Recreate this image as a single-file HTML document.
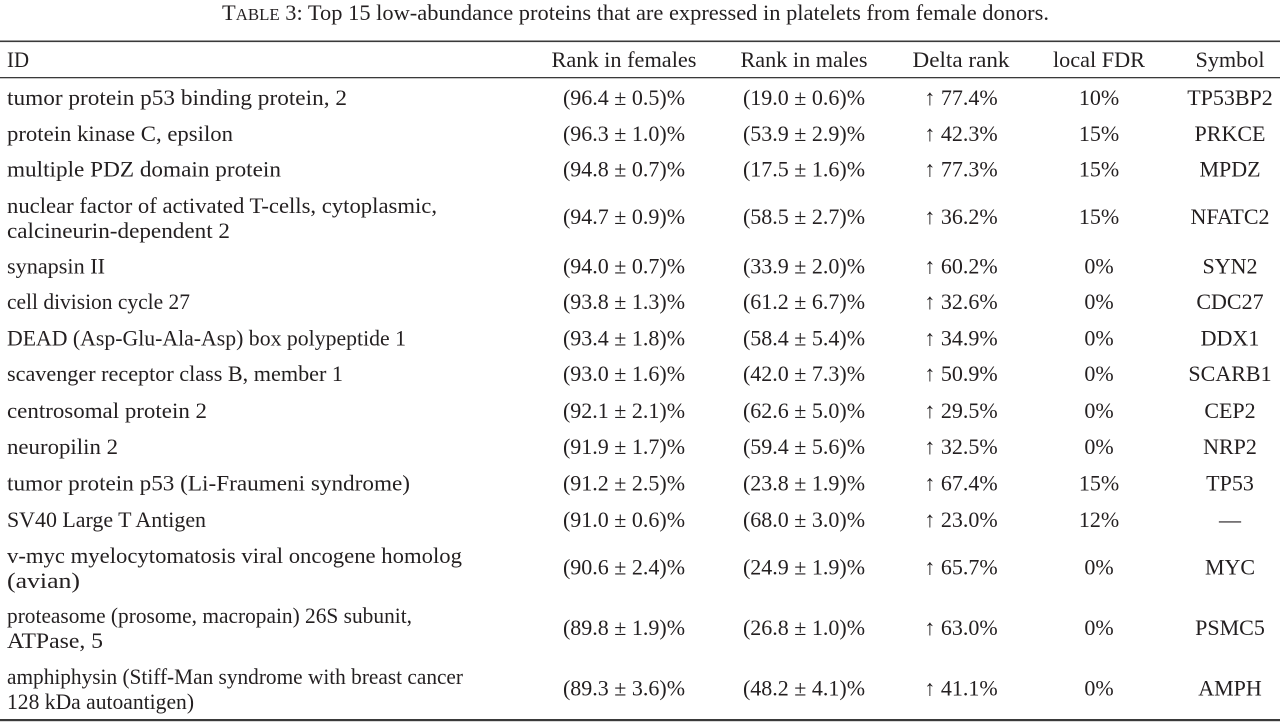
<!DOCTYPE html>
<html>
<head>
<meta charset="utf-8">
<style>
  html, body { margin: 0; padding: 0; background: #ffffff; }
  body { width: 1280px; height: 722px; overflow: hidden; }
  svg { display: block; }
  text { font-family: "Liberation Serif", "DejaVu Serif", serif; font-size: 22px; fill: #231f20; }
  .c { text-anchor: middle; }
</style>
</head>
<body>
<svg width="1280" height="722" viewBox="0 0 1280 722" xmlns="http://www.w3.org/2000/svg">
  <!-- Caption -->
  <text x="222" y="20" textLength="827" lengthAdjust="spacingAndGlyphs">T<tspan font-size="16.5">ABLE</tspan> 3: Top 15 low-abundance proteins that are expressed in platelets from female donors.</text>

  <!-- Rules -->
  <rect x="0" y="40.5" width="1280" height="1.6" fill="#3a3a3a"/>
  <rect x="0" y="77" width="1280" height="1.3" fill="#3a3a3a"/>
  <rect x="0" y="719" width="1280" height="2.2" fill="#3a3a3a"/>

  <!-- Header -->
  <text x="7" y="67" textLength="22" lengthAdjust="spacingAndGlyphs">ID</text>
  <text class="c" x="624" y="67" textLength="145" lengthAdjust="spacingAndGlyphs">Rank in females</text>
  <text class="c" x="804" y="67" textLength="127" lengthAdjust="spacingAndGlyphs">Rank in males</text>
  <text class="c" x="961" y="67" textLength="97" lengthAdjust="spacingAndGlyphs">Delta rank</text>
  <text class="c" x="1099" y="67" textLength="92" lengthAdjust="spacingAndGlyphs">local FDR</text>
  <text class="c" x="1230" y="67" textLength="69" lengthAdjust="spacingAndGlyphs">Symbol</text>

  <!-- Row 1 -->
  <text x="7" y="105" textLength="340" lengthAdjust="spacingAndGlyphs">tumor protein p53 binding protein, 2</text>
  <text class="c" x="624" y="105">(96.4 ± 0.5)%</text>
  <text class="c" x="804" y="105">(19.0 ± 0.6)%</text>
  <text class="c" x="961" y="105">↑ 77.4%</text>
  <text class="c" x="1099" y="105">10%</text>
  <text class="c" x="1230" y="105">TP53BP2</text>

  <!-- Row 2 -->
  <text x="7" y="141" textLength="226" lengthAdjust="spacingAndGlyphs">protein kinase C, epsilon</text>
  <text class="c" x="624" y="141">(96.3 ± 1.0)%</text>
  <text class="c" x="804" y="141">(53.9 ± 2.9)%</text>
  <text class="c" x="961" y="141">↑ 42.3%</text>
  <text class="c" x="1099" y="141">15%</text>
  <text class="c" x="1230" y="141">PRKCE</text>

  <!-- Row 3 -->
  <text x="7" y="176.5" textLength="274" lengthAdjust="spacingAndGlyphs">multiple PDZ domain protein</text>
  <text class="c" x="624" y="176.5">(94.8 ± 0.7)%</text>
  <text class="c" x="804" y="176.5">(17.5 ± 1.6)%</text>
  <text class="c" x="961" y="176.5">↑ 77.3%</text>
  <text class="c" x="1099" y="176.5">15%</text>
  <text class="c" x="1230" y="176.5">MPDZ</text>

  <!-- Row 4 -->
  <text x="7" y="213" textLength="430" lengthAdjust="spacingAndGlyphs">nuclear factor of activated T-cells, cytoplasmic,</text>
  <text x="7" y="238" textLength="223" lengthAdjust="spacingAndGlyphs">calcineurin-dependent 2</text>
  <text class="c" x="624" y="224">(94.7 ± 0.9)%</text>
  <text class="c" x="804" y="224">(58.5 ± 2.7)%</text>
  <text class="c" x="961" y="224">↑ 36.2%</text>
  <text class="c" x="1099" y="224">15%</text>
  <text class="c" x="1230" y="224">NFATC2</text>

  <!-- Row 5 -->
  <text x="7" y="273.5" textLength="98" lengthAdjust="spacingAndGlyphs">synapsin II</text>
  <text class="c" x="624" y="273.5">(94.0 ± 0.7)%</text>
  <text class="c" x="804" y="273.5">(33.9 ± 2.0)%</text>
  <text class="c" x="961" y="273.5">↑ 60.2%</text>
  <text class="c" x="1099" y="273.5">0%</text>
  <text class="c" x="1230" y="273.5">SYN2</text>

  <!-- Row 6 -->
  <text x="7" y="309" textLength="183" lengthAdjust="spacingAndGlyphs">cell division cycle 27</text>
  <text class="c" x="624" y="309">(93.8 ± 1.3)%</text>
  <text class="c" x="804" y="309">(61.2 ± 6.7)%</text>
  <text class="c" x="961" y="309">↑ 32.6%</text>
  <text class="c" x="1099" y="309">0%</text>
  <text class="c" x="1230" y="309">CDC27</text>

  <!-- Row 7 -->
  <text x="7" y="345.5" textLength="399" lengthAdjust="spacingAndGlyphs">DEAD (Asp-Glu-Ala-Asp) box polypeptide 1</text>
  <text class="c" x="624" y="345.5">(93.4 ± 1.8)%</text>
  <text class="c" x="804" y="345.5">(58.4 ± 5.4)%</text>
  <text class="c" x="961" y="345.5">↑ 34.9%</text>
  <text class="c" x="1099" y="345.5">0%</text>
  <text class="c" x="1230" y="345.5">DDX1</text>

  <!-- Row 8 -->
  <text x="7" y="381" textLength="336" lengthAdjust="spacingAndGlyphs">scavenger receptor class B, member 1</text>
  <text class="c" x="624" y="381">(93.0 ± 1.6)%</text>
  <text class="c" x="804" y="381">(42.0 ± 7.3)%</text>
  <text class="c" x="961" y="381">↑ 50.9%</text>
  <text class="c" x="1099" y="381">0%</text>
  <text class="c" x="1230" y="381">SCARB1</text>

  <!-- Row 9 -->
  <text x="7" y="418" textLength="200" lengthAdjust="spacingAndGlyphs">centrosomal protein 2</text>
  <text class="c" x="624" y="418">(92.1 ± 2.1)%</text>
  <text class="c" x="804" y="418">(62.6 ± 5.0)%</text>
  <text class="c" x="961" y="418">↑ 29.5%</text>
  <text class="c" x="1099" y="418">0%</text>
  <text class="c" x="1230" y="418">CEP2</text>

  <!-- Row 10 -->
  <text x="7" y="454" textLength="111" lengthAdjust="spacingAndGlyphs">neuropilin 2</text>
  <text class="c" x="624" y="454">(91.9 ± 1.7)%</text>
  <text class="c" x="804" y="454">(59.4 ± 5.6)%</text>
  <text class="c" x="961" y="454">↑ 32.5%</text>
  <text class="c" x="1099" y="454">0%</text>
  <text class="c" x="1230" y="454">NRP2</text>

  <!-- Row 11 -->
  <text x="7" y="490.5" textLength="403" lengthAdjust="spacingAndGlyphs">tumor protein p53 (Li-Fraumeni syndrome)</text>
  <text class="c" x="624" y="490.5">(91.2 ± 2.5)%</text>
  <text class="c" x="804" y="490.5">(23.8 ± 1.9)%</text>
  <text class="c" x="961" y="490.5">↑ 67.4%</text>
  <text class="c" x="1099" y="490.5">15%</text>
  <text class="c" x="1230" y="490.5">TP53</text>

  <!-- Row 12 -->
  <text x="7" y="527" textLength="199" lengthAdjust="spacingAndGlyphs">SV40 Large T Antigen</text>
  <text class="c" x="624" y="527">(91.0 ± 0.6)%</text>
  <text class="c" x="804" y="527">(68.0 ± 3.0)%</text>
  <text class="c" x="961" y="527">↑ 23.0%</text>
  <text class="c" x="1099" y="527">12%</text>
  <text class="c" x="1230" y="527">—</text>

  <!-- Row 13 -->
  <text x="7" y="563" textLength="455" lengthAdjust="spacingAndGlyphs">v-myc myelocytomatosis viral oncogene homolog</text>
  <text x="7" y="588" textLength="73" lengthAdjust="spacingAndGlyphs">(avian)</text>
  <text class="c" x="624" y="574.5">(90.6 ± 2.4)%</text>
  <text class="c" x="804" y="574.5">(24.9 ± 1.9)%</text>
  <text class="c" x="961" y="574.5">↑ 65.7%</text>
  <text class="c" x="1099" y="574.5">0%</text>
  <text class="c" x="1230" y="574.5">MYC</text>

  <!-- Row 14 -->
  <text x="7" y="623" textLength="405" lengthAdjust="spacingAndGlyphs">proteasome (prosome, macropain) 26S subunit,</text>
  <text x="7" y="648" textLength="96" lengthAdjust="spacingAndGlyphs">ATPase, 5</text>
  <text class="c" x="624" y="635">(89.8 ± 1.9)%</text>
  <text class="c" x="804" y="635">(26.8 ± 1.0)%</text>
  <text class="c" x="961" y="635">↑ 63.0%</text>
  <text class="c" x="1099" y="635">0%</text>
  <text class="c" x="1230" y="635">PSMC5</text>

  <!-- Row 15 -->
  <text x="7" y="684" textLength="456" lengthAdjust="spacingAndGlyphs">amphiphysin (Stiff-Man syndrome with breast cancer</text>
  <text x="7" y="709" textLength="187" lengthAdjust="spacingAndGlyphs">128 kDa autoantigen)</text>
  <text class="c" x="624" y="695.5">(89.3 ± 3.6)%</text>
  <text class="c" x="804" y="695.5">(48.2 ± 4.1)%</text>
  <text class="c" x="961" y="695.5">↑ 41.1%</text>
  <text class="c" x="1099" y="695.5">0%</text>
  <text class="c" x="1230" y="695.5">AMPH</text>
</svg>
</body>
</html>
